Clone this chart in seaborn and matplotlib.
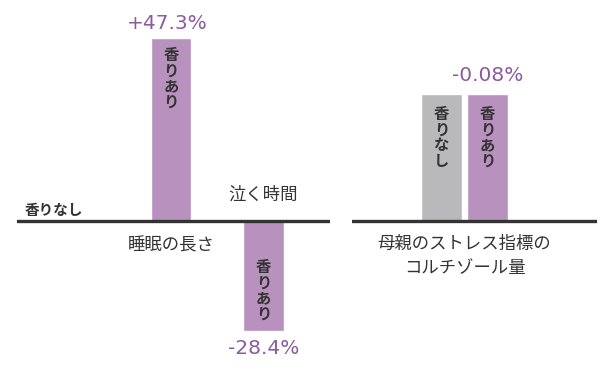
import matplotlib
matplotlib.use('Agg')
import matplotlib.pyplot as plt
import seaborn as sns
import pandas as pd

# --- data ---
left_cats = ['睡眠の長さ', '泣く時間']
left_change = [47.3, -28.4]              # % change with scent vs without
left_pct_labels = ['+47.3%', '-28.4%']

right_groups = ['香りなし', '香りあり']
right_level = [1.0, 0.9992]              # relative cortisol level
right_pct_label = '-0.08%'
right_title = '母親のストレス指標の\nコルチゾール量'

PURPLE = '#b991be'
GRAY = '#b9b9bb'
TEXT_PURPLE = '#8c5a9f'
DARK = '#333333'

sns.set_theme(style='white')
plt.rcParams['font.family'] = ['Noto Sans CJK JP', 'DejaVu Sans']

W, H = 604, 368
fig = plt.figure(figsize=(W / 100, H / 100), dpi=100)
fig.patch.set_facecolor('white')

CJK = ['Noto Sans CJK JP', 'DejaVu Sans']
NUM = ['DejaVu Sans']
PCT_SIZE = 14.5
BAR_TXT = dict(fontsize=11, fontweight='bold', color=DARK, family=CJK,
               linespacing=0.97)


def vertical(s):
    return '\n'.join(s)


# ===== left panel: sleep length / crying time =====
ax1 = fig.add_axes([17 / W, 0, (330 - 17) / W, 1])
df1 = pd.DataFrame({'cat': left_cats, 'val': left_change})
sns.barplot(data=df1, x='cat', y='val', ax=ax1, color=PURPLE,
            saturation=1, width=0.44, errorbar=None)
ax1.set_xlim(-1.665, 1.72)
ax1.set_ylim(-38.0, 57.1)
ax1.axhline(0, color=DARK, lw=2.4, zorder=5)
ax1.set_axis_off()

for patch, cat, lab in zip(ax1.patches, left_cats, left_pct_labels):
    cx = patch.get_x() + patch.get_width() / 2
    h = patch.get_height()
    if h >= 0:
        top = patch.get_y() + h
        ax1.annotate(vertical('香りあり'), (cx, top), xytext=(0, -9),
                     textcoords='offset pixels', ha='center', va='top', **BAR_TXT)
        ax1.annotate(lab, (cx, top), xytext=(-4, 5), textcoords='offset pixels',
                     ha='center', va='bottom', fontsize=PCT_SIZE,
                     color=TEXT_PURPLE, family=NUM)
        ax1.annotate(cat, (cx, 0), xytext=(0, -25), textcoords='offset pixels',
                     ha='center', va='center', fontsize=12.5, color=DARK,
                     family=CJK)
    else:
        ybot = min(patch.get_y(), patch.get_y() + h)
        ax1.annotate(vertical('香りあり'), (cx, ybot), xytext=(0, 9),
                     textcoords='offset pixels', ha='center', va='bottom', **BAR_TXT)
        ax1.annotate(lab, (cx, ybot), xytext=(0, -8), textcoords='offset pixels',
                     ha='center', va='top', fontsize=PCT_SIZE,
                     color=TEXT_PURPLE, family=NUM)
        ax1.annotate(cat, (cx, 0), xytext=(0, 26), textcoords='offset pixels',
                     ha='center', va='center', fontsize=12.5, color=DARK,
                     family=CJK)

# baseline label
ax1.annotate('香りなし', (ax1.get_xlim()[0], 0), xytext=(8, 11),
             textcoords='offset pixels', ha='left', va='center',
             fontsize=10.5, fontweight='bold', color=DARK, family=CJK)

# ===== right panel: cortisol =====
ax2 = fig.add_axes([352 / W, 0, (597 - 352) / W, 1])
df2 = pd.DataFrame({'grp': right_groups, 'val': right_level})
sns.barplot(data=df2, x='grp', y='val', hue='grp', ax=ax2,
            palette=[GRAY, PURPLE], saturation=1, width=0.89,
            errorbar=None, legend=False)
ax2.set_xlim(-1.946, 3.38)
ax2.set_ylim(-1.157, 1.74)
ax2.axhline(0, color=DARK, lw=2.4, zorder=5)
ax2.set_axis_off()

bars2 = sorted(ax2.patches, key=lambda p: p.get_x())
for patch, grp in zip(bars2, right_groups):
    cx = patch.get_x() + patch.get_width() / 2
    top = patch.get_y() + patch.get_height()
    ax2.annotate(vertical(grp), (cx, top), xytext=(0, -12),
                 textcoords='offset pixels', ha='center', va='top', **BAR_TXT)

last = bars2[-1]
ax2.annotate(right_pct_label,
             (last.get_x() + last.get_width() / 2, last.get_y() + last.get_height()),
             xytext=(0, 9), textcoords='offset pixels', ha='center', va='bottom',
             fontsize=PCT_SIZE, color=TEXT_PURPLE, family=NUM)

mid = (bars2[0].get_x() + bars2[-1].get_x() + bars2[-1].get_width()) / 2
ax2.annotate(right_title, (mid, 0), xytext=(0, -14), textcoords='offset pixels',
             ha='center', va='top', fontsize=12.5, color=DARK, family=CJK,
             linespacing=1.4)

fig.savefig('out.png', dpi=100, facecolor='white')
